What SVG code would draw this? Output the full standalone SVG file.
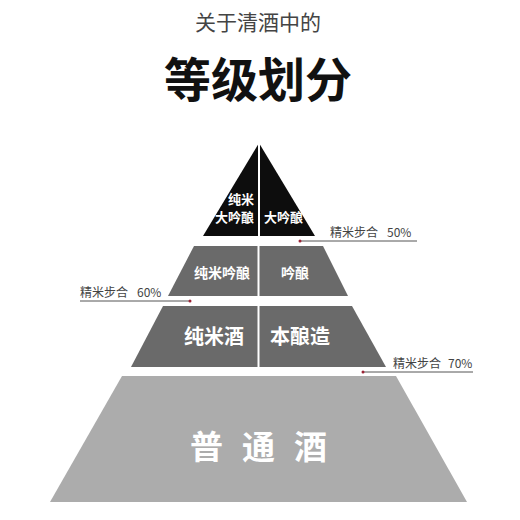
<svg xmlns="http://www.w3.org/2000/svg" width="520" height="520" viewBox="0 0 520 520">
<style>
text{font-family:"Noto Sans CJK SC","Noto Sans",sans-serif;}
.w{fill:#fff;}
.div{stroke:#fff;stroke-width:2;}
.lbl{fill:#444;font-size:12px;}
.lead{stroke:#555;stroke-width:1;fill:none;}
.dot{fill:#9b2335;}
</style>
<rect width="520" height="520" fill="#fff"/>
<g id="title">
<text x="258" y="30" text-anchor="middle" font-size="21" fill="#444">关于清酒中的</text>
<text x="258" y="97" text-anchor="middle" font-size="47" font-weight="bold" fill="#111">等级划分</text>
</g>
<g id="tier1">
<polygon points="259,143 315,236 203,236" fill="#0d0d0d"/>
<line class="div" x1="259" y1="143" x2="259" y2="236"/>
<text class="w" x="254" y="204" text-anchor="end" font-size="13" font-weight="bold">纯米</text>
<text class="w" x="254" y="222" text-anchor="end" font-size="13" font-weight="bold">大吟酿</text>
<text class="w" x="264" y="222" font-size="13" font-weight="bold">大吟酿</text>
</g>
<g id="tier2">
<polygon points="194,246 323,246 348,296 168,296" fill="#6a6a6a"/>
<line class="div" x1="258.5" y1="246" x2="258.5" y2="296"/>
<text class="w" x="250" y="278" text-anchor="end" font-size="14" font-weight="bold">纯米吟酿</text>
<text class="w" x="281" y="278" font-size="14" font-weight="bold">吟酿</text>
</g>
<g id="tier3">
<polygon points="163,306 352,306 386,367 131,367" fill="#6a6a6a"/>
<line class="div" x1="258.5" y1="306" x2="258.5" y2="367"/>
<text class="w" x="244" y="344" text-anchor="end" font-size="20" font-weight="bold">纯米酒</text>
<text class="w" x="270" y="344" font-size="20" font-weight="bold">本酿造</text>
</g>
<g id="tier4">
<polygon points="122,376 396,376 467,502 50,502" fill="#acacac"/>
<text class="w" x="268" y="459" text-anchor="middle" font-size="33" font-weight="bold" letter-spacing="19">普通酒</text>
</g>
<g id="connectors">
<line class="lead" x1="300" y1="241" x2="417" y2="241"/>
<circle class="dot" cx="300" cy="241" r="1.5"/>
<line class="lead" x1="80" y1="301" x2="190" y2="301"/>
<circle class="dot" cx="190" cy="301" r="1.5"/>
<line class="lead" x1="363" y1="372" x2="473" y2="372"/>
<circle class="dot" cx="363" cy="372" r="1.5"/>
</g>
<g id="labels">
<text class="lbl" x="330" y="237">精米步合<tspan x="387">50%</tspan></text>
<text class="lbl" x="80" y="297">精米步合<tspan x="137">60%</tspan></text>
<text class="lbl" x="393" y="368">精米步合<tspan x="448">70%</tspan></text>
</g>
</svg>
